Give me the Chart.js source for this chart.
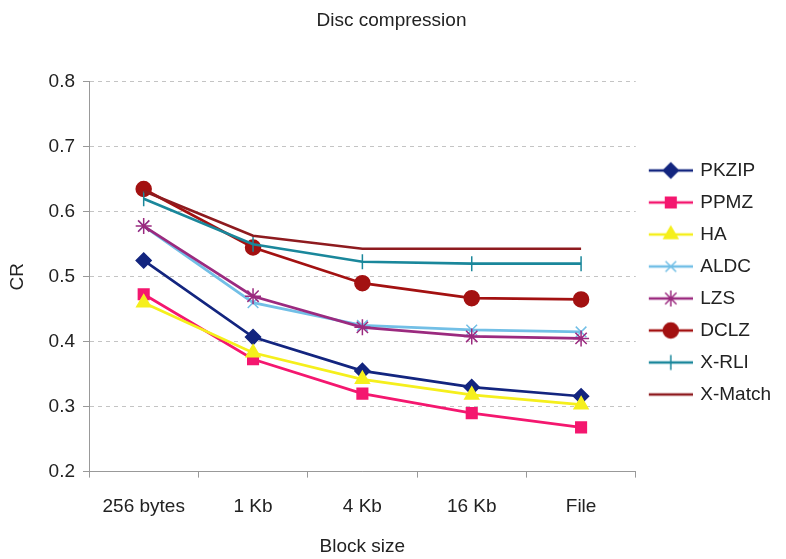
<!DOCTYPE html>
<html>
<head>
<meta charset="utf-8">
<style>
  html, body { margin: 0; padding: 0; background: #fff; }
  #wrap { width: 786px; height: 559px; }
</style>
<script src="https://cdn.jsdelivr.net/npm/chart.js@4/dist/chart.umd.min.js"></script>
</head>
<body>
<div id="wrap"><canvas id="c" width="786" height="559"></canvas></div>
<script>
// Block sizes on the x axis
const blockSizes = ['256 bytes', '1 Kb', '4 Kb', '16 Kb', 'File'];

// Compression ratio per block size, one array per compressor
const pkzip  = [0.525, 0.407, 0.355, 0.330, 0.316];
const ppmz   = [0.473, 0.373, 0.320, 0.290, 0.268];
const ha     = [0.460, 0.383, 0.342, 0.318, 0.303];
const aldc   = [0.578, 0.460, 0.425, 0.418, 0.415];
const lzs    = [0.578, 0.470, 0.422, 0.408, 0.405];
const dclz   = [0.635, 0.545, 0.490, 0.467, 0.465];
const xrli   = [0.620, 0.550, 0.523, 0.520, 0.520];
const xmatch = [0.632, 0.563, 0.543, 0.543, 0.543];

const seriesNames = ['PKZIP', 'PPMZ', 'HA', 'ALDC', 'LZS', 'DCLZ', 'X-RLI', 'X-Match'];
const seriesData  = [pkzip, ppmz, ha, aldc, lzs, dclz, xrli, xmatch];

// y axis range and step
const yMin = 0.2, yMax = 0.8, yStep = 0.1;

const styles = [
  { color: '#13257f', point: 'rectRot',  radius: 7.5 },
  { color: '#f4176f', point: 'rect',     radius: 7.5 },
  { color: '#f5ef1c', point: 'triangle', radius: 8 },
  { color: '#72bfe6', point: 'crossRot', radius: 7.5 },
  { color: '#9b2a7f', point: 'star',     radius: 8 },
  { color: '#a31111', point: 'circle',   radius: 7.5 },
  { color: '#1a879b', point: 'line',     radius: 7.5, rotation: 90 },
  { color: '#8e1b1f', point: false,      radius: 0 }
];

const FONT = "'Liberation Sans', Arial, sans-serif";
const FS = 19;

// Legend symbol: a short line with the series marker in the middle
function legendSymbol(st) {
  const w = 46, h = 22;
  const cv = document.createElement('canvas');
  cv.width = w; cv.height = h;
  const ctx = cv.getContext('2d');
  ctx.strokeStyle = st.color;
  ctx.lineWidth = 2.5;
  ctx.beginPath();
  ctx.moveTo(2, h / 2);
  ctx.lineTo(w, h / 2);
  ctx.stroke();
  if (st.point && Chart.helpers && Chart.helpers.drawPoint) {
    ctx.fillStyle = st.color;
    ctx.strokeStyle = st.color;
    ctx.lineWidth = 1.5;
    Chart.helpers.drawPoint(ctx, {
      pointStyle: st.point, radius: st.radius, rotation: st.rotation || 0, borderWidth: 1.5
    }, w / 2 + 1, h / 2);
  }
  return cv;
}

const datasets = seriesData.map((vals, i) => ({
  label: seriesNames[i],
  data: vals,
  borderColor: styles[i].color,
  backgroundColor: styles[i].color,
  borderWidth: 2.7,
  pointStyle: styles[i].point,
  pointRadius: styles[i].radius,
  pointHoverRadius: styles[i].radius,
  pointRotation: styles[i].rotation || 0,
  pointBorderWidth: 1.5,
  pointBackgroundColor: styles[i].color,
  pointBorderColor: styles[i].color,
  tension: 0,
  fill: false,
  order: seriesNames.length - i
}));

new Chart(document.getElementById('c'), {
  type: 'line',
  data: { labels: blockSizes, datasets },
  options: {
    responsive: false,
    animation: false,
    events: [],
    layout: { padding: { left: 2, right: 5, top: 6, bottom: 0 } },
    plugins: {
      title: {
        display: true,
        text: 'Disc compression',
        color: '#222',
        font: { family: FONT, size: FS, weight: 'normal' },
        padding: { top: 3, bottom: 50 }
      },
      legend: {
        position: 'right',
        align: 'center',
        labels: {
          color: '#222',
          font: { family: FONT, size: FS },
          usePointStyle: true,
          pointStyleWidth: 42,
          padding: 13,
          generateLabels(chart) {
            return chart.data.datasets.map((ds, i) => ({
              text: ds.label,
              fontColor: '#222',
              pointStyle: legendSymbol(styles[i]),
              strokeStyle: styles[i].color,
              fillStyle: styles[i].color,
              lineWidth: 0,
              hidden: false,
              datasetIndex: i
            }));
          }
        }
      },
      tooltip: { enabled: false }
    },
    scales: {
      x: {
        offset: true,
        grid: { display: true, drawOnChartArea: false, offset: true, tickLength: 6, color: '#999' },
        border: { display: true, color: '#999', width: 1 },
        ticks: { color: '#222', font: { family: FONT, size: FS }, padding: 17.6, maxRotation: 0, autoSkip: false },
        title: {
          display: true, text: 'Block size', color: '#222',
          font: { family: FONT, size: FS }, padding: { top: 0, bottom: 0.6 }
        }
      },
      y: {
        min: yMin,
        max: yMax,
        grid: { color: '#c4c4c4', lineWidth: 1, tickLength: 6, tickColor: '#999', tickBorderDash: [] },
        border: { display: true, color: '#999', width: 1, dash: [4, 4] },
        ticks: {
          stepSize: yStep, color: '#222', padding: 8,
          font: { family: FONT, size: FS },
          callback: v => Number(v).toFixed(1)
        },
        title: {
          display: true, text: 'CR', color: '#222',
          font: { family: FONT, size: FS }, padding: { top: 4.6, bottom: 11.2 }
        }
      }
    }
  }
});
</script>
</body>
</html>
